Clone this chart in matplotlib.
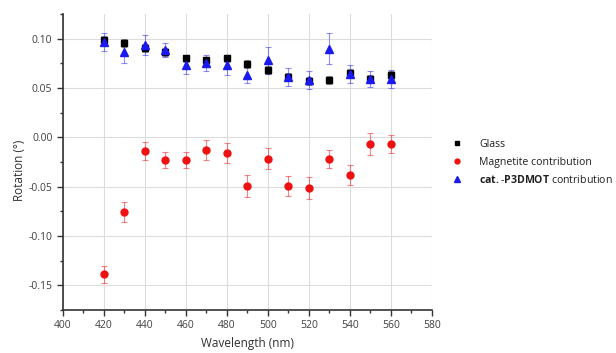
import matplotlib
matplotlib.use('Agg')
import matplotlib.pyplot as plt
from matplotlib.ticker import MultipleLocator
import numpy as np

plt.rcParams['font.family'] = ['Open Sans', 'DejaVu Sans']
plt.rcParams['mathtext.fontset'] = 'custom'
plt.rcParams['mathtext.rm'] = 'Open Sans'
plt.rcParams['mathtext.bf'] = 'Open Sans:bold'

wavelength = [420, 430, 440, 450, 460, 470, 480, 490, 500, 510, 520, 530, 540, 550, 560]

glass = [0.099, 0.096, 0.091, 0.087, 0.080, 0.078, 0.080, 0.074, 0.068, 0.061,
         0.057, 0.058, 0.065, 0.059, 0.063]
glass_err = [0.004, 0.004, 0.004, 0.004, 0.004, 0.004, 0.004, 0.004, 0.004, 0.004,
             0.004, 0.004, 0.004, 0.004, 0.004]

magnetite = [-0.139, -0.076, -0.014, -0.023, -0.023, -0.013, -0.016, -0.049, -0.0215,
             -0.049, -0.051, -0.022, -0.038, -0.007, -0.0065]
magnetite_err = [0.009, 0.010, 0.009, 0.008, 0.008, 0.010, 0.010, 0.011, 0.011,
                 0.010, 0.011, 0.009, 0.010, 0.011, 0.009]

p3dmot = [0.097, 0.087, 0.094, 0.089, 0.073, 0.0755, 0.073, 0.063, 0.078, 0.0615,
          0.0585, 0.090, 0.064, 0.059, 0.059]
p3dmot_err = [0.009, 0.012, 0.010, 0.007, 0.009, 0.008, 0.010, 0.008, 0.0135, 0.009,
              0.009, 0.016, 0.009, 0.008, 0.009]

fig = plt.figure(figsize=(6.16, 3.53), dpi=100)
ax = fig.add_axes([0.102, 0.122, 0.599, 0.838])

ax.errorbar(wavelength, glass, yerr=glass_err, fmt='s', color='black', ms=4.3,
            ecolor=(0.3, 0.3, 0.3, 0.6), elinewidth=0.8, capsize=2.5, capthick=0.8,
            label='Glass', zorder=3)
ax.errorbar(wavelength, magnetite, yerr=magnetite_err, fmt='o', color='#ee1111', ms=5,
            ecolor=(0.93, 0.2, 0.2, 0.6), elinewidth=0.8, capsize=2.5, capthick=0.8,
            label='Magnetite contribution', zorder=3)
ax.errorbar(wavelength, p3dmot, yerr=p3dmot_err, fmt='^', color='#1a1aee', ms=5.8,
            ecolor=(0.2, 0.2, 0.93, 0.55), elinewidth=0.8, capsize=2.5, capthick=0.8,
            label=r'$\mathbf{cat.}$-$\mathbf{P3DMOT}$ contribution', zorder=3)

ax.set_xlim(400, 580)
ax.set_ylim(-0.175, 0.125)
ax.xaxis.set_major_locator(MultipleLocator(20))
ax.xaxis.set_minor_locator(MultipleLocator(10))
ax.yaxis.set_major_locator(MultipleLocator(0.05))
ax.yaxis.set_minor_locator(MultipleLocator(0.025))
ax.yaxis.set_major_formatter(matplotlib.ticker.FuncFormatter(lambda v, p: f'{v:.2f}'))

ax.grid(True, which='major', color='#dcdcdc', linewidth=0.8, zorder=0)
for sp in ['top', 'right']:
    ax.spines[sp].set_visible(False)
for sp in ['left', 'bottom']:
    ax.spines[sp].set_color('#333333')
    ax.spines[sp].set_linewidth(1.2)
ax.tick_params(which='major', direction='out', length=4, width=1, color='#333333',
               labelsize=7.5, labelcolor='#404040')
ax.tick_params(which='minor', direction='out', length=2, width=1, color='#333333')

ax.set_xlabel('Wavelength (nm)', fontsize=8.5, color='#303030', labelpad=4)
ax.set_ylabel('Rotation (°)', fontsize=8.5, color='#303030')
ax.yaxis.set_label_coords(-0.100, 0.473)

handles, labels = ax.get_legend_handles_labels()
handles = [h[0] for h in handles]
leg = fig.legend(handles, labels, loc='upper left', bbox_to_anchor=(0.726, 0.618),
                 frameon=False, fontsize=7.6, handletextpad=1.6, labelspacing=0.62,
                 handlelength=1.0, markerscale=0.7, borderaxespad=0.0)
for t in leg.get_texts():
    t.set_color('#202020')

fig.savefig('out.png', dpi=100)
